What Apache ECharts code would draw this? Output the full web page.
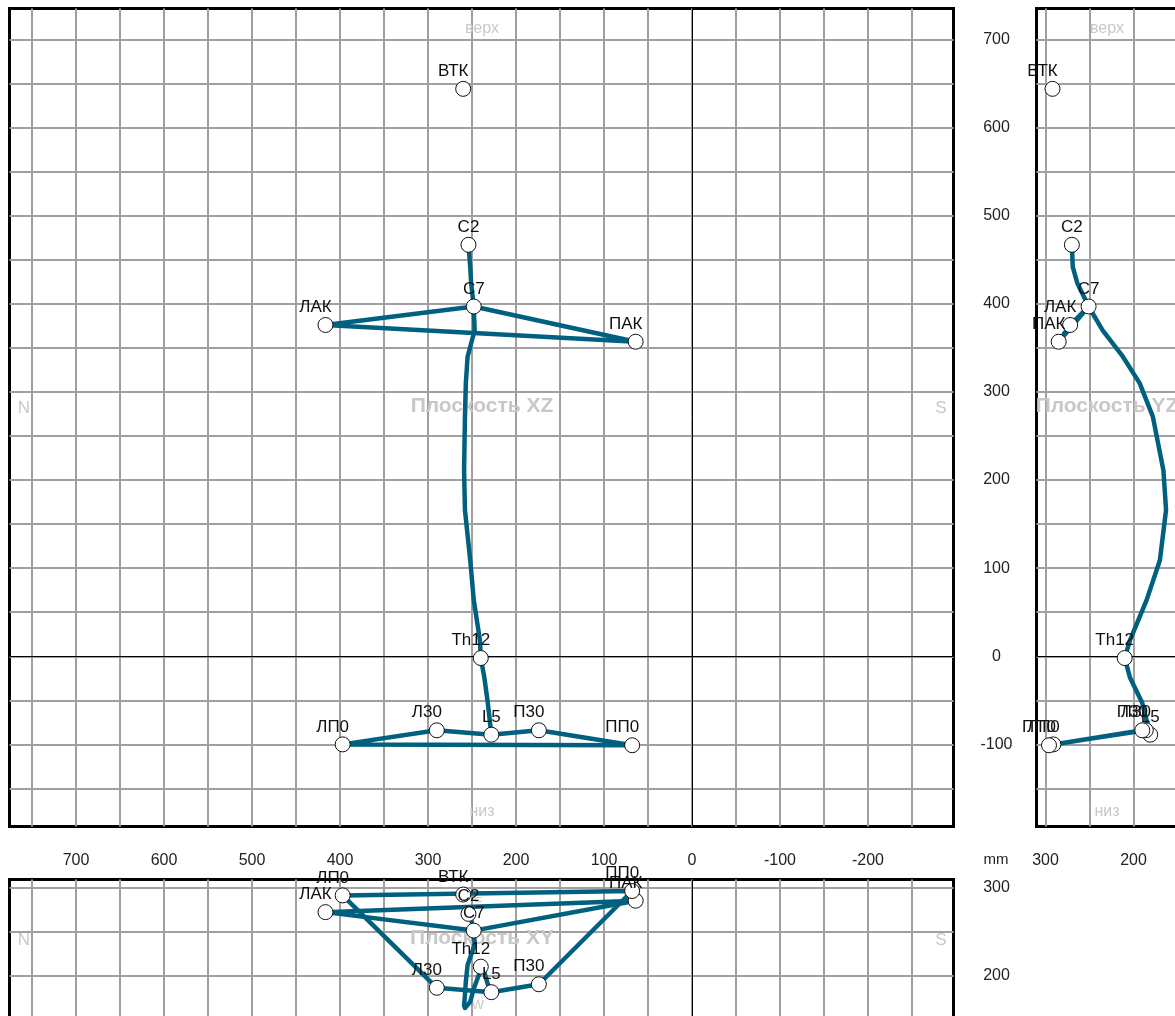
<!DOCTYPE html>
<html>
<head>
<meta charset="utf-8">
<style>
  html, body { margin: 0; padding: 0; background: #fff; overflow: hidden; }
  #main { width: 1175px; height: 1016px; }
</style>
<script src="https://cdn.jsdelivr.net/npm/echarts@6/dist/echarts.min.js"></script>
</head>
<body>
<div id="main"></div>
<script>
// маркеры, мм
const pointNames = ['ВТК', 'C2', 'C7', 'ЛАК', 'ПАК', 'Th12', 'L5', 'Л30', 'П30', 'ЛП0', 'ПП0'];
const pointX = [260, 254, 248, 416.5, 64, 240, 228, 290, 174, 397, 68];
const pointY = [292, 270, 251, 272, 285, 210, 181, 186, 190, 291, 296];
const pointZ = [644, 467, 397, 376, 357, -2, -89, -84, -84, -100, -101];

// линия позвоночника C2 .. L5
const spineX = [254, 252, 251, 248, 247, 255, 257, 258, 259, 258, 252, 248, 241, 240, 236, 232, 228];
const spineY = [270, 269, 264, 251, 235, 212, 193, 178, 166, 163, 170, 185, 204, 210, 204, 190, 181];
const spineZ = [467, 442, 424, 397, 370, 340, 310, 272, 211, 166, 109, 64, 18, -2, -24, -53, -89];

// замкнутые контуры
const shoulderLoop = ['ЛАК', 'C7', 'ПАК', 'ЛАК'];
const pelvisLoop = ['ЛП0', 'Л30', 'L5', 'П30', 'ПП0', 'ЛП0'];

// сетка и подписи осей
const xGrid = [750, 700, 650, 600, 550, 500, 450, 400, 350, 300, 250, 200, 150, 100, 50, 0, -50, -100, -150, -200, -250];
const xLabels = [700, 600, 500, 400, 300, 200, 100, 0, -100, -200];
const zGrid = [700, 650, 600, 550, 500, 450, 400, 350, 300, 250, 200, 150, 100, 50, 0, -50, -100, -150];
const zLabels = [700, 600, 500, 400, 300, 200, 100, 0, -100];
const yGridSide = [300, 250, 200, 150];
const yLabelsSide = [300, 200];
const yGridBottom = [300, 250, 200, 150];
const yLabelsBottom = [300, 200];

const FONT = '"Liberation Sans", Arial, sans-serif';
const LINE = '#00607f';
const GRAY = '#c8c8c8';

var myChart = echarts.init(document.getElementById('main'));

function makeGrid(left, top, width, height) {
  return {
    show: true, left: left, top: top, width: width, height: height,
    backgroundColor: '#fff', borderColor: '#000', borderWidth: 3,
    containLabel: false, outerBoundsMode: 'none'
  };
}

function makeAxis(idx, gridVals, labelVals, min, max, inverse, extra) {
  return Object.assign({
    type: 'value', gridIndex: idx, min: min, max: max, inverse: inverse,
    axisLine: { show: false },
    axisTick: { show: false, customValues: gridVals },
    splitLine: { show: true, lineStyle: { color: '#a0a0a0', width: 2 } },
    axisLabel: { show: true, customValues: labelVals, color: '#222', fontFamily: FONT, fontSize: 16, hideOverlap: false }
  }, extra);
}

const xzX = makeAxis(0, xGrid, xLabels, -297.2, 775.6, true, { position: 'bottom' });
xzX.axisLabel.margin = 26;
const yzX = makeAxis(1, yGridSide, yLabelsSide, 130.1, 310.2, true, { position: 'bottom' });
yzX.axisLabel.margin = 26;
const xyX = makeAxis(2, xGrid, [], -297.2, 775.6, true, { position: 'top' });
xyX.axisLabel.show = false;

const xzY = makeAxis(0, zGrid, zLabels, -193.2, 735.2, false, { position: 'right' });
const yzY = makeAxis(1, zGrid, [], -193.2, 735.2, false, { position: 'left' });
yzY.axisLabel.show = false;
const xyY = makeAxis(2, yGridBottom, yLabelsBottom, 138, 309.1, false, { position: 'right' });
[xzY, xyY].forEach(function (a) {
  a.axisLabel.align = 'center';
  a.axisLabel.margin = 43;
  a.axisLabel.padding = [0, 0, 8, 0];
});

function pick(names, xs, ys) {
  return names.map(function (n) {
    const i = pointNames.indexOf(n);
    return [xs[i], ys[i]];
  });
}

function zeroLine(idx, marks) {
  return {
    type: 'line', xAxisIndex: idx, yAxisIndex: idx, data: [], z: 1, silent: true,
    markLine: {
      silent: true, symbol: 'none', animation: false, label: { show: false },
      lineStyle: { color: '#000', width: 1, type: 'solid' }, data: marks
    }
  };
}

function pathSeries(idx, data) {
  return {
    type: 'line', xAxisIndex: idx, yAxisIndex: idx, data: data, z: 3, silent: true,
    symbol: 'none', animation: false,
    lineStyle: { color: LINE, width: 4.5, cap: 'round', join: 'round' }
  };
}

function panelSeries(idx, xs, ys, spineA, spineB, marks) {
  return [
    zeroLine(idx, marks),
    pathSeries(idx, spineA.map(function (v, i) { return [v, spineB[i]]; })),
    pathSeries(idx, pick(shoulderLoop, xs, ys)),
    pathSeries(idx, pick(pelvisLoop, xs, ys)),
    {
      type: 'scatter', xAxisIndex: idx, yAxisIndex: idx, z: 5, silent: true, animation: false,
      symbol: 'circle', symbolSize: 15,
      itemStyle: { color: '#fff', borderColor: '#111', borderWidth: 1, opacity: 1 },
      data: pointNames.map(function (n, i) {
        return {
          name: n, value: [xs[i], ys[i]],
          label: {
            show: true, formatter: n, position: 'top', distance: 1,
            offset: [n.length > 2 ? -10 : 0, 0],
            color: '#111', fontFamily: FONT, fontSize: 17
          }
        };
      })
    }
  ];
}

function bgText(text, cx, cy, size, bold) {
  return {
    type: 'text', x: cx, y: cy, z: 1, silent: true,
    style: {
      text: text, fill: GRAY, align: 'center', verticalAlign: 'middle',
      font: (bold ? 'bold ' : '') + size + 'px ' + FONT
    }
  };
}

let option = {
  backgroundColor: '#fff',
  animation: false,
  grid: [
    makeGrid(9.5, 8.5, 944, 818),
    makeGrid(1036.5, 8.5, 158.5, 818),
    makeGrid(9.5, 879.5, 944, 150.5)
  ],
  xAxis: [xzX, yzX, xyX],
  yAxis: [xzY, yzY, xyY],
  series: [].concat(
    panelSeries(0, pointX, pointZ, spineX, spineZ, [{ xAxis: 0 }, { yAxis: 0 }]),
    panelSeries(1, pointY, pointZ, spineY, spineZ, [{ yAxis: 0 }]),
    panelSeries(2, pointX, pointY, spineX, spineY, [{ xAxis: 0 }])
  ),
  graphic: [
    bgText('верх', 482, 29, 16),
    bgText('низ', 482, 812, 16),
    bgText('N', 24, 408, 17),
    bgText('S', 941, 408, 17),
    bgText('Плоскость XZ', 482, 406, 21, true),
    bgText('верх', 1107, 29, 16),
    bgText('низ', 1107, 812, 16),
    bgText('Плоскость YZ', 1107, 406, 21, true),
    bgText('N', 24, 940, 17),
    bgText('S', 941, 940, 17),
    bgText('E', 478, 898, 13),
    bgText('Плоскость XY', 482, 938, 21, true),
    bgText('W', 478, 1005, 13),
    {
      type: 'text', x: 996, y: 860, z: 1, silent: true,
      style: { text: 'mm', fill: '#222', align: 'center', verticalAlign: 'middle', font: '15px ' + FONT }
    }
  ]
};

myChart.setOption(option);
</script>
</body>
</html>
